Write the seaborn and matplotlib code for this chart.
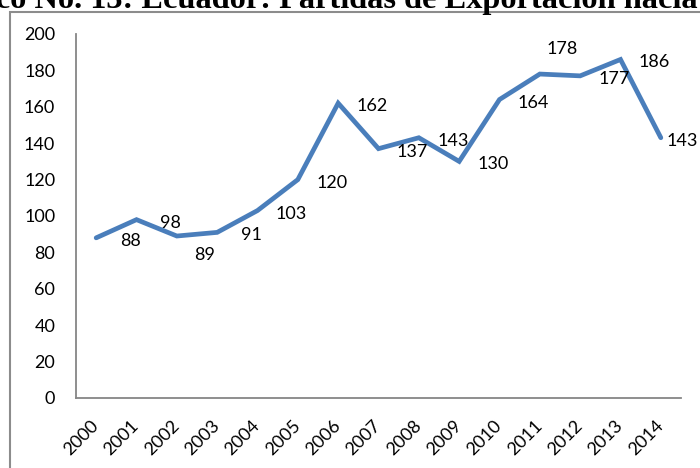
import matplotlib
matplotlib.use("Agg")
import matplotlib.pyplot as plt
import matplotlib.patches as mpatches
import seaborn as sns
import pandas as pd

# Datos
years = [2000, 2001, 2002, 2003, 2004, 2005, 2006, 2007,
         2008, 2009, 2010, 2011, 2012, 2013, 2014]
values = [88, 98, 89, 91, 103, 120, 162, 137, 143, 130, 164, 178, 177, 186, 143]
y_ticks = [0, 20, 40, 60, 80, 100, 120, 140, 160, 180, 200]
title = "Gráfico No. 13: Ecuador: Partidas de Exportación hacia"

# Desplazamiento de las etiquetas (pixeles) respecto al punto
label_offset = (34, -3)
label_offset_special = {2002: (28, -19), 2011: (22, 25), 2014: (21, -3)}

df = pd.DataFrame({"year": years, "value": values})

sns.set_theme(style="white")
plt.rcParams["font.family"] = ["Lato", "DejaVu Sans"]

W, H = 700, 468
fig = plt.figure(figsize=(7, 4.68), dpi=100)
ax = fig.add_axes([76 / W, 70 / H, (681 - 76) / W, (398 - 34) / H])

sns.lineplot(data=df, x="year", y="value", ax=ax, color="#4A7EBB",
             linewidth=3.4, solid_joinstyle="miter")

for yr, v in zip(years, values):
    dx, dy = label_offset_special.get(yr, label_offset)
    ax.annotate(str(v), (yr, v), xytext=(dx, dy), textcoords="offset pixels",
                ha="center", va="center", fontsize=13, color="black")

ax.set_xlim(years[0] - 0.5, years[-1] + 0.5)
ax.set_ylim(0, 200)
ax.set_yticks(y_ticks)
ax.set_xticks(years)
ax.set_xticklabels([str(y) for y in years], rotation=45, ha="right",
                   va="center", rotation_mode="anchor")
ax.tick_params(axis="both", length=0, labelsize=13, colors="black")
ax.tick_params(axis="y", pad=15)
ax.tick_params(axis="x", pad=18)
ax.set_xlabel("")
ax.set_ylabel("")

for side in ["top", "right"]:
    ax.spines[side].set_visible(False)
for side in ["left", "bottom"]:
    ax.spines[side].set_color("#868686")
    ax.spines[side].set_linewidth(1.3)

# Marco exterior del grafico
frame = mpatches.Rectangle((10 / W, -0.2), 1.2, 1.2 - 12 / H + 0.0,
                           transform=fig.transFigure, fill=False,
                           edgecolor="#8c8c8c", linewidth=1.5, clip_on=False)
fig.patches.append(frame)

fig.text(-80 / W, 1 - 8 / H, title, ha="left", va="baseline",
         fontsize=23.3, fontweight="bold", family="Liberation Serif",
         color="black")

fig.savefig("out.png", dpi=100)
